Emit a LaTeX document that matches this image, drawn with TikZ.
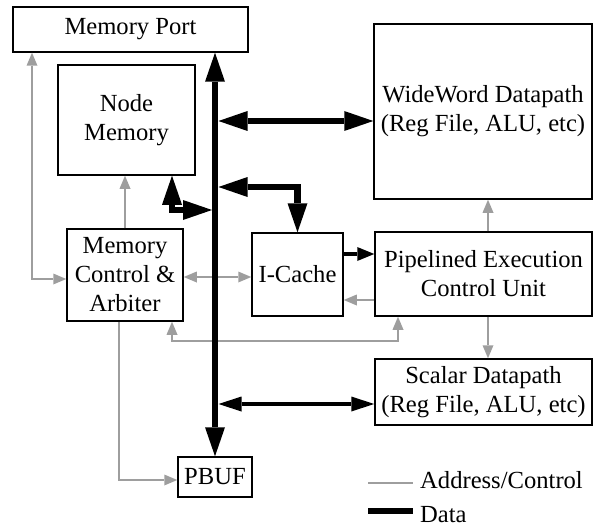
\documentclass[tikz,border=0pt]{standalone}
\usepackage{fontspec}
\setmainfont{Liberation Serif}
\usetikzlibrary{arrows.meta}
\definecolor{ctlgray}{RGB}{158,158,158}
\newcommand{\blockfont}{\fontsize{24.6}{29}\selectfont}
\tikzset{
  block/.style={draw, line width=1.5pt, inner sep=0pt, align=center, font=\blockfont},
  ctl/.style={draw=ctlgray, line width=2.5pt},
  bigdata/.style={draw=black, line width=6.5pt},
  smalldata/.style={draw=black, line width=4pt},
  gtip/.tip={Triangle[length=13pt,width=11pt,line width=0pt]},
  btip/.tip={Triangle[length=29pt,width=20pt,line width=0pt]},
  mtip/.tip={Triangle[length=23pt,width=15pt,line width=0pt]},
  stip/.tip={Triangle[length=17pt,width=14pt,line width=0pt]},
}
\begin{document}
\begin{tikzpicture}[x=1pt,y=-1pt]
\useasboundingbox (0,0) rectangle (598,527);

% blocks
\node[block, minimum width=235pt, minimum height=45pt]  (mport)   at (130.5,29.5) {Memory Port};
\node[block, minimum width=137pt, minimum height=110pt] (nodemem) at (126.5,120)  {Node\\Memory};
\node[block, minimum width=218pt, minimum height=175pt] (wide)    at (483,111.5)  {WideWord Datapath\\(Reg File, ALU, etc)};
\node[block, minimum width=116pt, minimum height=92pt]  (mctrl)   at (125,275)    {Memory\\Control \&\\Arbiter};
\node[block, minimum width=91pt,  minimum height=83pt]  (icache)  at (297.5,274.5) {I-Cache};
\node[block, minimum width=217pt, minimum height=84pt]  (pipe)    at (483.5,274)  {Pipelined Execution\\Control Unit};
\node[block, minimum width=217pt, minimum height=66pt]  (scalar)  at (483.5,392)  {Scalar Datapath\\(Reg File, ALU, etc)};
\node[block, minimum width=74pt,  minimum height=40pt]  (pbuf)    at (215,477)    {PBUF};

% routing guides
\coordinate (busx) at (215,0);
\coordinate (busr) at (218.5,0);
\coordinate (busl) at (212,0);
\coordinate (yW)  at (0,121);
\coordinate (yI)  at (0,187);
\coordinate (yN)  at (0,210);
\coordinate (yS)  at (0,404);
\coordinate (yIP) at (0,254);
\coordinate (xL)  at (32,0);
\coordinate (yL)  at (0,279);
\coordinate (yMI) at (0,277);
\coordinate (yPI) at (0,300);
\coordinate (yB)  at (0,341);
\coordinate (xB1) at (172,0);
\coordinate (xB2) at (398,0);
\coordinate (xP)  at (119,0);
\coordinate (yP)  at (0,480);
\coordinate (xE)  at (488,0);
\coordinate (xN)  at (172,0);

% address / control lines
\draw[ctl, arrows={gtip-gtip}] (xL |- mport.south) -- (xL |- yL) -- (mctrl.west |- yL);
\draw[ctl, arrows={-gtip}] (mctrl.north) -- (mctrl.north |- nodemem.south);
\draw[ctl, arrows={gtip-gtip}] (mctrl.east |- yMI) -- (icache.west |- yMI);
\draw[ctl, arrows={-gtip}] (pipe.west |- yPI) -- (icache.east |- yPI);
\draw[ctl, arrows={gtip-gtip}] (xB1 |- mctrl.south) -- (xB1 |- yB) -- (xB2 |- yB) -- (xB2 |- pipe.south);
\draw[ctl, arrows={-gtip}] (xE |- pipe.north) -- (xE |- wide.south);
\draw[ctl, arrows={-gtip}] (xE |- pipe.south) -- (xE |- scalar.north);
\draw[ctl, arrows={-gtip}] (xP |- mctrl.south) -- (xP |- yP) -- (pbuf.west |- yP);

% data paths
\draw[bigdata, arrows={btip-btip}] (busr |- yW) -- (wide.west |- yW);
\draw[bigdata, arrows={btip-btip}] (busr |- yI) -- (icache.north |- yI) -- (icache.north);
\draw[bigdata, arrows={btip-btip}] (xN |- nodemem.south) -- (xN |- yN) -- (busl |- yN);
\draw[smalldata, arrows={mtip-mtip}] (busr |- yS) -- (scalar.west |- yS);
\draw[smalldata, arrows={-stip}] (icache.east |- yIP) -- (pipe.west |- yIP);
\draw[bigdata, arrows={btip-btip}] (busx |- mport.south) -- (busx |- pbuf.north);

% legend
\coordinate (lgA1) at (368,483);
\coordinate (lgA2) at (413,483);
\coordinate (lgD1) at (368,511);
\coordinate (lgD2) at (413,511);
\draw[ctl] (lgA1) -- (lgA2);
\draw[draw=black, line width=6pt] (lgD1) -- (lgD2);
\node[anchor=base west, inner sep=0pt, font=\blockfont] (lgA) at (420,488) {Address/Control};
\node[anchor=base west, inner sep=0pt, font=\blockfont] (lgD) at (420,522) {Data};
\end{tikzpicture}
\end{document}
